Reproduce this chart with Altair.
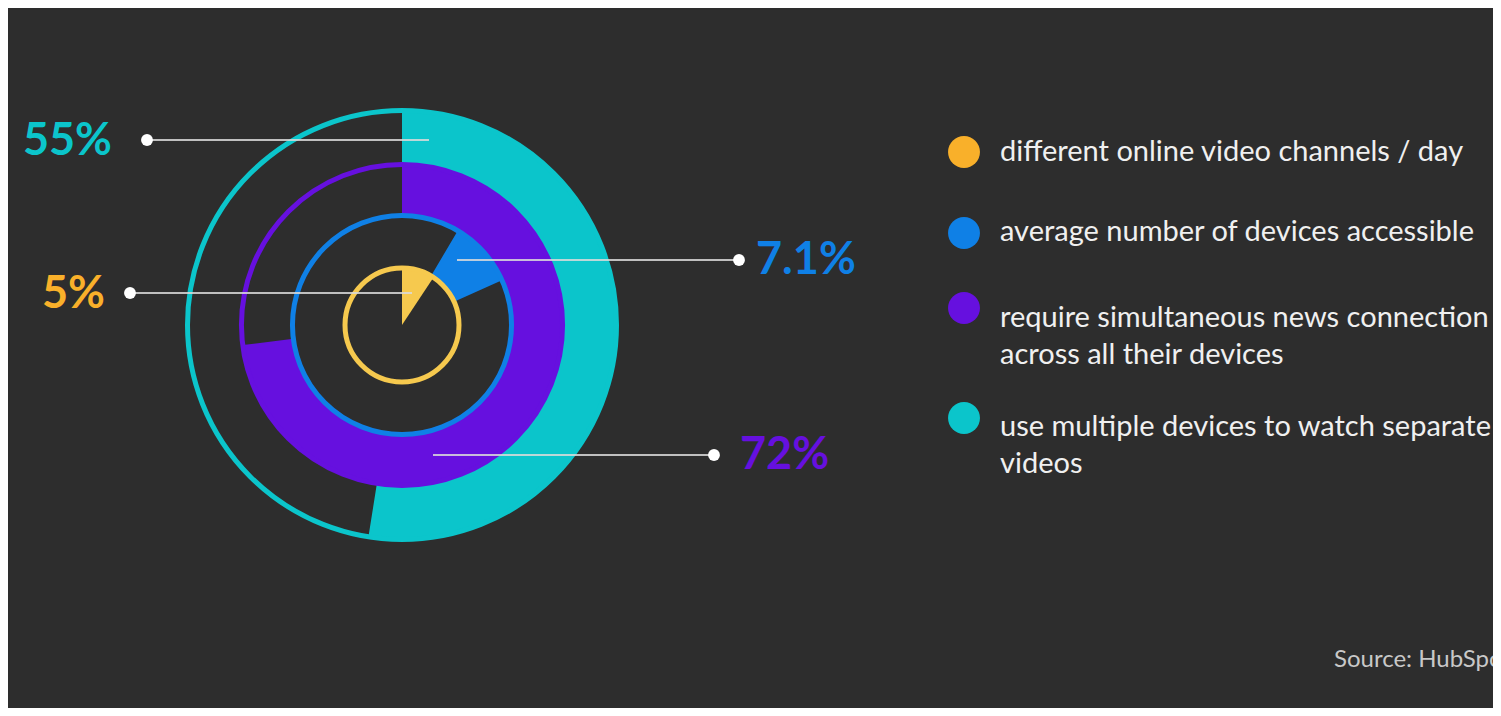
import math
import altair as alt
import pandas as pd

# ---------------- data ----------------
categories = [
    "different online video channels / day",
    "average number of devices accessible",
    "require simultaneous news connection across all their devices",
    "use multiple devices to watch separate videos",
]
legend_lines = [
    ["different online video channels / day"],
    ["average number of devices accessible"],
    ["require simultaneous news connection", "across all their devices"],
    ["use multiple devices to watch separate", "videos"],
]
value_labels = ["5%", "7.1%", "72%", "55%"]
# arc extents as drawn (fraction of full turn, clockwise from 12 o'clock)
arc_start = [0.0, 0.085, 0.0, 0.0]
arc_end = [0.093, 0.183, 0.73, 0.525]
ring_index = [0, 1, 2, 3]
source_text = "Source: HubSpot"

# ---------------- styles ----------------
BG = "#2D2D2D"
ring_palette = ["#F6C94E", "#0F80E6", "#6610DF", "#0BC5CB"]
label_palette = ["#F9B02A", "#0F80E6", "#6610DF", "#0BC5CB"]
TEXT_COLOR = "#F0F0F0"
FONT = "Lato"

# ---------------- layout ----------------
W, H = 1485, 700
CX, CY = 394, 317
ring_radii = [0, 57, 109.5, 160.5, 214.5]
conn_y = [285, 252, 447, 132]
conn_x_dot = [122, 731, 706, 139]
conn_x_end = [404, 449, 425, 421]
label_x = [97, 748, 732, 104]
label_side = ["left", "right", "right", "left"]
legend_dot_x = 956
legend_text_x = 992
legend_dot_y = [144, 225, 300, 410]
legend_line_y = [[144], [224], [310, 347], [419, 456]]
source_x, source_y = 1326, 652

# ---------------- tables ----------------
df = pd.DataFrame({
    "cat": categories,
    "label": value_labels,
    "start": arc_start,
    "end": arc_end,
    "inner": ring_index,
    "outer": [i + 1 for i in ring_index],
    "zero": [0] * 4,
    "full": [1] * 4,
    "y_conn": conn_y,
    "x_dot": conn_x_dot,
    "x_end": conn_x_end,
    "label_x": label_x,
    "side": label_side,
    "leg_y": legend_dot_y,
})

leg_rows = []
for cat, lines, ys in zip(categories, legend_lines, legend_line_y):
    for ln, yy in zip(lines, ys):
        leg_rows.append({"cat": cat, "line": ln, "y": yy})
df_leg = pd.DataFrame(leg_rows)
df_src = pd.DataFrame({"text": [source_text]})

theta_scale = alt.Scale(domain=[0, 1], range=[0, 2 * math.pi])
radius_scale = alt.Scale(type="linear", domain=[0, 1, 2, 3, 4], range=ring_radii)
ring_color = alt.Scale(domain=categories, range=ring_palette)
label_fill = alt.Scale(domain=categories, range=label_palette)

wedges = alt.Chart(df).mark_arc().encode(
    theta=alt.Theta("start:Q", scale=theta_scale),
    theta2=alt.Theta2("end:Q"),
    radius=alt.Radius("outer:Q", scale=radius_scale),
    radius2=alt.Radius2("inner:Q"),
    color=alt.Color("cat:N", scale=ring_color, legend=None),
    x=alt.value(CX),
    y=alt.value(CY),
)

outlines = alt.Chart(df).mark_arc(filled=False, strokeWidth=5).encode(
    theta=alt.Theta("zero:Q", scale=theta_scale),
    theta2=alt.Theta2("full:Q"),
    radius=alt.Radius("outer:Q", scale=radius_scale),
    stroke=alt.Stroke("cat:N", scale=ring_color, legend=None),
    x=alt.value(CX),
    y=alt.value(CY),
)

rules = alt.Chart(df).mark_rule(strokeWidth=2, color="#DADADA", opacity=0.85).encode(
    x=alt.X("x_dot:Q", scale=None, axis=None),
    x2=alt.X2("x_end:Q"),
    y=alt.Y("y_conn:Q", scale=None, axis=None),
)

dots = alt.Chart(df).mark_circle(size=140, color="white", opacity=1).encode(
    x=alt.X("x_dot:Q", scale=None, axis=None),
    y=alt.Y("y_conn:Q", scale=None, axis=None),
)

labels_left = alt.Chart(df).transform_filter(alt.datum.side == "left").mark_text(
    align="right", baseline="middle", font=FONT, fontSize=45, fontWeight="bold", dy=1
).encode(
    x=alt.X("label_x:Q", scale=None, axis=None),
    y=alt.Y("y_conn:Q", scale=None, axis=None),
    text="label:N",
    fill=alt.Fill("cat:N", scale=label_fill, legend=None),
)

labels_right = alt.Chart(df).transform_filter(alt.datum.side == "right").mark_text(
    align="left", baseline="middle", font=FONT, fontSize=45, fontWeight="bold"
).encode(
    x=alt.X("label_x:Q", scale=None, axis=None),
    y=alt.Y("y_conn:Q", scale=None, axis=None),
    text="label:N",
    fill=alt.Fill("cat:N", scale=label_fill, legend=None),
)

legend_dots = alt.Chart(df).mark_circle(size=1018, opacity=1).encode(
    x=alt.value(legend_dot_x),
    y=alt.Y("leg_y:Q", scale=None, axis=None),
    fill=alt.Fill("cat:N", scale=label_fill, legend=None),
)

legend_text = alt.Chart(df_leg).mark_text(
    align="left", baseline="middle", font=FONT, fontSize=29, color=TEXT_COLOR, clip=True
).encode(
    x=alt.value(legend_text_x),
    y=alt.Y("y:Q", scale=None, axis=None),
    text="line:N",
)

source = alt.Chart(df_src).mark_text(
    align="left", baseline="middle", font=FONT, fontSize=24, color="#C8C8C8", clip=True
).encode(
    x=alt.value(source_x),
    y=alt.value(source_y),
    text="text:N",
)

chart = alt.layer(
    wedges, outlines, rules, dots, labels_left, labels_right,
    legend_dots, legend_text, source,
).properties(
    width=W, height=H, padding=0,
    autosize=alt.AutoSizeParams(type="none"),
).configure(background=BG).configure_view(strokeWidth=0)

chart.save("out.html", embed_options={"renderer": "svg", "actions": False})
